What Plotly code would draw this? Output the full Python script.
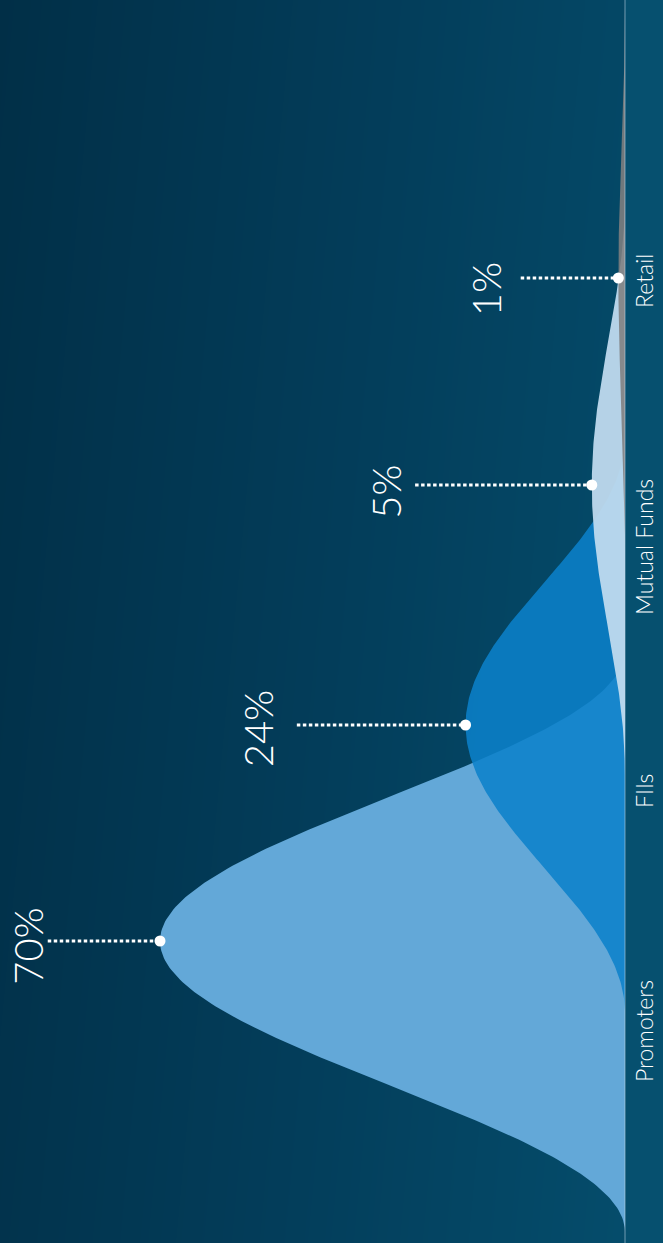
import numpy as np
import plotly.graph_objects as go

# Shareholding pattern
categories = ["Promoters", "FIIs", "Mutual Funds", "Retail"]
shares = [70, 24, 5, 1]
share_labels = ["70%", "24%", "5%", "1%"]

# Layout of the lanes (vertical axis runs top -> bottom, in px-like units)
W, H = 663, 1243
lane_center = [941, 725, 485, 278]       # where each bell peaks
lane_half_width = [291, 288, 290, 272]   # half-span of each bell along the lane axis
cat_label_y = [1031, 791, 547, 281]
pct_label_y = [946, 728, 492, 289]
pct_label_x = [89.9, 55.2, 36.0, 20.9]   # in share units
leader_start = [86.9, 49.4, 31.6, 15.7]

fills = [
    "rgba(99,168,216,1.0)",
    "rgba(11,129,202,0.87)",
    "rgba(191,218,238,0.95)",
    "rgba(128,126,127,0.88)",
]

# value axis: 0 at the baseline, growing to the left
px_per_unit = 465 / 70
x_left = 625 / px_per_unit
x_right = -(W - 625) / px_per_unit

fig = go.Figure()

# background wash
gx = np.linspace(x_left, x_right, 40)
gy = np.linspace(0, H, 40)
fx = np.linspace(0, 1, 40)[None, :]
fy = np.linspace(0, 1, 40)[:, None]
gz = 0.85 * fx + 0.15 * fy
fig.add_trace(go.Heatmap(
    x=gx, y=gy, z=gz, zsmooth="best", showscale=False, hoverinfo="skip",
    colorscale=[[0, "#012f47"], [0.5, "#033d5a"], [1, "#054e6d"]],
))

# bell-shaped areas, peak depth = share
for v, c, hw, col, name in zip(shares, lane_center, lane_half_width, fills, categories):
    yy = np.linspace(c - hw, c + hw, 241)
    xx = v * (1 + np.cos(np.pi * (yy - c) / hw)) / 2
    fig.add_trace(go.Scatter(
        x=xx, y=yy, mode="lines", fill="tozerox", fillcolor=col,
        line=dict(width=0, color=col), name=name, hoverinfo="skip",
    ))

# dotted leaders and peak markers
for v, c, xs in zip(shares, lane_center, leader_start):
    fig.add_trace(go.Scatter(
        x=[xs, v], y=[c, c], mode="lines",
        line=dict(color="white", width=3, dash="3.5px,2.5px"), hoverinfo="skip",
    ))
fig.add_trace(go.Scatter(
    x=shares, y=lane_center, mode="markers",
    marker=dict(color="white", size=11), hoverinfo="skip",
))

# percentage labels
for t, x, y in zip(share_labels, pct_label_x, pct_label_y):
    fig.add_annotation(
        x=x, y=y, xref="x", yref="y", text=t, showarrow=False, textangle=-90,
        font=dict(family="Lato", size=40, color="white", weight=300),
    )

# category labels in the side strip
for t, y in zip(categories, cat_label_y):
    fig.add_annotation(
        x=(x_right) / 2, y=y, xref="x", yref="y", text=t, showarrow=False,
        textangle=-90, font=dict(family="Lato", size=23, color="white", weight=300),
    )

fig.add_shape(type="rect", xref="x", yref="y", x0=0, x1=x_right, y0=0, y1=H,
              fillcolor="#06506f", line=dict(width=0), layer="above")
fig.add_shape(type="line", xref="x", yref="y", x0=0, x1=0, y0=0, y1=H,
              line=dict(color="rgba(200,220,235,0.55)", width=1), layer="above")

fig.update_layout(
    width=W, height=H, margin=dict(l=0, r=0, t=0, b=0),
    paper_bgcolor="#023650", plot_bgcolor="#023650", showlegend=False,
    xaxis=dict(range=[x_left, x_right], visible=False, fixedrange=True),
    yaxis=dict(range=[H, 0], visible=False, fixedrange=True),
)

fig.write_html("out.html")
